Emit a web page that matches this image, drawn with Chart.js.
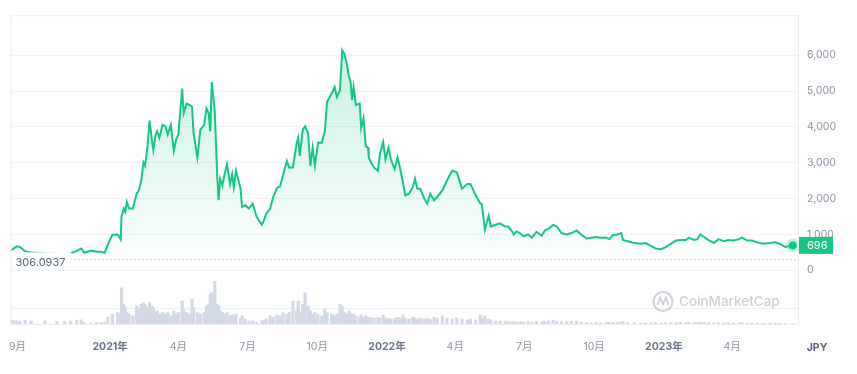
<!DOCTYPE html>
<html>
<head>
<meta charset="utf-8">
<script src="https://cdn.jsdelivr.net/npm/chart.js@4.4.0/dist/chart.umd.min.js"></script>
<style>
  body { margin: 0; background: #fff; }
  #wrap { width: 857px; height: 374px; }
</style>
</head>
<body>
<div id="wrap"><canvas id="chart" width="857" height="374"></canvas></div>
<script>
// day offsets counted from baseDate
const baseDate = '2020-09-01';
const days = [
  -9, -6, -1, 3, 10, 18, 36, 52, 62, 70,
  78, 84, 88, 97, 104, 110, 115, 119, 125, 132,
  136, 137, 140, 142, 144, 147, 152, 157, 160, 163,
  166, 168, 171, 174, 177, 179, 182, 184, 187, 191,
  195, 198, 202, 206, 209, 212, 217, 219, 223, 227,
  230, 232, 237, 241, 246, 249, 252, 254, 256, 260,
  263, 265, 267, 270, 272, 276, 280, 283, 285, 288,
  294, 296, 300, 305, 310, 315, 322, 324, 328, 333,
  337, 342, 346, 350, 355, 358, 363, 368, 370, 372,
  376, 379, 383, 386, 389, 392, 396, 401, 405, 408,
  414, 418, 421, 425, 428, 431, 434, 437, 439, 441,
  443, 446, 451, 453, 456, 459, 462, 463, 466, 470,
  475, 478, 482, 485, 489, 492, 497, 501, 504, 508,
  511, 516, 521, 524, 527, 531, 536, 540, 544, 549,
  553, 560, 566, 573, 579, 586, 593, 597, 604, 610,
  612, 616, 621, 624, 630, 636, 643, 647, 652, 654,
  658, 663, 667, 673, 678, 684, 691, 695, 700, 706,
  711, 717, 724, 730, 737, 743, 750, 756, 763, 769,
  776, 780, 785, 791, 796, 798, 804, 813, 822, 828,
  835, 841, 848, 854, 861, 868, 874, 881, 885, 892,
  896, 900, 905, 911, 918, 924, 931, 937, 944, 951,
  955, 962, 968, 975, 983, 992, 999, 1005, 1012, 1022
];
const prices = [
  560, 600, 670, 650, 530, 500, 470, 460, 445, 480,
  540, 610, 490, 555, 520, 517, 490, 720, 995, 1000,
  857, 1497, 1725, 1634, 1909, 1725, 1725, 2137, 2230, 2505,
  3008, 2917, 3392, 4181, 3648, 3357, 3785, 3879, 3695, 4060,
  4016, 3785, 4060, 3329, 3648, 3785, 5068, 4381, 4656, 4610,
  4565, 3832, 3145, 3923, 4060, 4519, 4381, 3879, 5252, 4428,
  2733, 1955, 2550, 2366, 2596, 2962, 2412, 2687, 2321, 2780,
  2275, 1772, 1817, 1725, 1863, 1497, 1269, 1350, 1588, 1725,
  2046, 2300, 2340, 2660, 3054, 2871, 2871, 3557, 3695, 3191,
  3923, 4016, 3832, 2917, 3420, 2917, 3557, 3557, 3879, 4703,
  4931, 5115, 4840, 5023, 6140, 6030, 5755, 5390, 5253, 4747,
  5115, 4610, 4656, 3970, 4244, 3466, 3420, 3145, 3008, 2871,
  2780, 3283, 3576, 3099, 3420, 3099, 2824, 3145, 2871, 2459,
  2093, 2140, 2321, 2550, 2275, 2275, 2000, 1863, 2140, 1955,
  2046, 2230, 2505, 2780, 2733, 2275, 2412, 2412, 2093, 1863,
  1850, 1131, 1524, 1222, 1270, 1313, 1222, 1222, 1085, 1000,
  1085, 1025, 950, 1000, 910, 1075, 965, 1110, 1165, 1269,
  1222, 1040, 1000, 1040, 1110, 1000, 890, 910, 930, 910,
  910, 870, 985, 1000, 1040, 845, 810, 760, 740, 760,
  680, 610, 590, 640, 740, 830, 845, 845, 910, 845,
  870, 1000, 930, 845, 760, 870, 810, 845, 830, 870,
  910, 830, 830, 780, 740, 760, 780, 740, 650, 696
];
const volumes = [
  2, 2.4, 2, 1.8, 2.2, 1.8, 2, 1.6, 1.4, 1.8,
  2.4, 2.6, 0.8, 0.6, 1, 0.8, 1.2, 4.2, 6, 7,
  6, 22, 12, 10, 7, 6, 5, 11, 9, 12,
  13, 12, 10, 13, 11, 10, 7, 8, 6, 7,
  6, 7, 5, 8, 6, 7, 14, 9, 7, 6,
  15, 10, 7, 6, 7, 11, 12, 18, 19, 26,
  12, 11, 8, 7, 6, 7, 5, 5.4, 4, 6,
  3.6, 5, 3, 2, 2, 1.2, 2, 2.4, 3, 5,
  4, 5.4, 5, 7, 6, 7, 14, 8, 14, 7,
  12, 19, 11, 8, 6, 7, 6, 5, 9, 7,
  6, 5, 6, 12, 11, 7, 6, 8, 6, 5,
  6, 5, 4, 5.4, 4, 5, 4, 3.6, 4, 3.6,
  4, 3.6, 5.4, 3.6, 3.6, 3, 3.6, 4, 3.6, 5.4,
  3.6, 3, 4, 3.6, 3, 3.6, 3, 3.6, 3, 4,
  3.6, 5, 3.6, 3, 3.6, 3, 2.4, 3, 2.4, 5.4,
  3.6, 5, 3, 2.4, 1.8, 1.8, 1.8, 1.5, 1.5, 1.2,
  1.2, 1.5, 1.2, 1.4, 1.2, 1.6, 1.3, 1.8, 2, 2.2,
  1.8, 1.5, 1.4, 1.6, 1.8, 1.2, 0.8, 0.6, 0.8, 0.7,
  1, 0.8, 1, 1.2, 1.4, 1.6, 0.9, 0.7, 0.6, 0.6,
  0.7, 0.8, 0.6, 0.7, 0.9, 0.8, 1, 0.9, 1.1, 0.8,
  0.9, 1.2, 1, 0.8, 0.7, 0.8, 0.7, 0.8, 0.6, 0.7,
  0.8, 0.6, 0.5, 0.5, 0.4, 0.4, 0.5, 0.4, 0.3, 0.3
];
const priceTicks = [0, 1000, 2000, 3000, 4000, 5000, 6000];
const volumeTicks = [10];
const tickDates = ['2020-09-01', '2021-01-01', '2021-04-01', '2021-07-01', '2021-10-01',
  '2022-01-01', '2022-04-01', '2022-07-01', '2022-10-01', '2023-01-01', '2023-04-01'];
const tickLabels = ['9月', '2021年', '4月', '7月', '10月', '2022年', '4月', '7月', '10月', '2023年', '4月'];
const lowPrice = 306.0937;
const lastPrice = 696;
const currency = 'JPY';

const GREEN = '#16c784';

function dayOf(s) {
  const p = s.split('-').map(Number);
  const b = baseDate.split('-').map(Number);
  return Math.round((Date.UTC(p[0], p[1] - 1, p[2]) - Date.UTC(b[0], b[1] - 1, b[2])) / 86400000);
}

Chart.defaults.font.family = 'Inter, Roboto, "Noto Sans CJK JP", sans-serif';

const overlay = {
  id: 'overlay',
  beforeDatasetsDraw(chart) {
    const { ctx, chartArea: a, scales } = chart;
    ctx.save();
    // volume grid line
    volumeTicks.forEach(v => {
      const gy = Math.round(scales.yv.getPixelForValue(v)) + 0.5;
      ctx.strokeStyle = '#eff1f4';
      ctx.lineWidth = 1;
      ctx.beginPath(); ctx.moveTo(a.left, gy); ctx.lineTo(a.right, gy); ctx.stroke();
    });
    // watermark
    ctx.strokeStyle = 'rgba(170,178,194,0.6)';
    ctx.fillStyle = 'rgba(170,178,194,0.6)';
    ctx.lineWidth = 2;
    ctx.beginPath(); ctx.arc(663, 301.5, 9.5, 0, Math.PI * 2); ctx.stroke();
    ctx.lineWidth = 1.8;
    ctx.beginPath();
    ctx.moveTo(657.5, 305); ctx.lineTo(660, 297.5); ctx.lineTo(663, 304);
    ctx.lineTo(666, 297.5); ctx.lineTo(668.5, 305);
    ctx.stroke();
    ctx.font = '500 13.5px Inter, Roboto, sans-serif';
    ctx.textBaseline = 'middle';
    ctx.textAlign = 'left';
    ctx.fillText('CoinMarketCap', 679, 302);
    // dotted low line
    const ly = Math.round(scales.y.getPixelForValue(lowPrice)) + 0.5;
    ctx.strokeStyle = '#a6adbd';
    ctx.lineWidth = 1;
    ctx.setLineDash([1, 3]);
    ctx.beginPath(); ctx.moveTo(a.left, ly); ctx.lineTo(a.right, ly); ctx.stroke();
    ctx.setLineDash([]);
    ctx.restore();
  },
  afterDatasetsDraw(chart) {
    const { ctx, chartArea: a, scales } = chart;
    ctx.save();
    // low price label
    const ly = scales.y.getPixelForValue(lowPrice);
    ctx.font = '11px Inter, Roboto, sans-serif';
    const lbl = lowPrice.toString();
    const w = ctx.measureText(lbl).width;
    ctx.fillStyle = '#fff';
    ctx.fillRect(a.left + 1, ly - 7, w + 10, 17);
    ctx.fillStyle = '#58667e';
    ctx.textBaseline = 'middle';
    ctx.fillText(lbl, a.left + 5, ly + 3);
    // end point
    const lx = scales.x.getPixelForValue(days[days.length - 1]);
    const py = scales.y.getPixelForValue(prices[prices.length - 1]);
    ctx.fillStyle = 'rgba(22,199,132,0.25)';
    ctx.beginPath(); ctx.arc(lx, py, 7, 0, Math.PI * 2); ctx.fill();
    ctx.fillStyle = GREEN;
    ctx.beginPath(); ctx.arc(lx, py, 4, 0, Math.PI * 2); ctx.fill();
    // frame
    ctx.strokeStyle = '#eceef2';
    ctx.lineWidth = 1;
    ctx.strokeRect(a.left + 0.5, a.top + 0.5, a.right - a.left, a.bottom - a.top);
    ctx.restore();
  },
  afterDraw(chart) {
    const { ctx, chartArea: a, scales } = chart;
    ctx.save();
    // current price tag
    const py = scales.y.getPixelForValue(lastPrice);
    ctx.fillStyle = GREEN;
    ctx.fillRect(a.right + 1, py - 8.5, 34, 17);
    ctx.fillStyle = '#fff';
    ctx.font = '11px Inter, Roboto, sans-serif';
    ctx.textBaseline = 'middle';
    ctx.textAlign = 'left';
    ctx.fillText(lastPrice.toString(), a.right + 9, py + 0.5);
    // currency
    ctx.fillStyle = '#58667e';
    ctx.font = 'bold 10.5px Inter, Roboto, sans-serif';
    ctx.textAlign = 'center';
    ctx.fillText(currency, 817, 348);
    ctx.restore();
  }
};

const ctx = document.getElementById('chart').getContext('2d');
new Chart(ctx, {
  type: 'line',
  data: {
    datasets: [{
      type: 'line',
      data: days.map((d, i) => ({ x: d, y: prices[i] })),
      yAxisID: 'y',
      borderColor: GREEN,
      borderWidth: 2,
      pointRadius: 0,
      tension: 0,
      order: 0,
      fill: { target: 'origin' },
      backgroundColor: (c) => {
        const ch = c.chart;
        const a = ch.chartArea;
        if (!a) return 'rgba(22,199,132,0.1)';
        const y0 = ch.scales.y.getPixelForValue(0);
        const g = ch.ctx.createLinearGradient(0, a.top + 35, 0, y0);
        g.addColorStop(0, 'rgba(22,199,132,0.24)');
        g.addColorStop(1, 'rgba(22,199,132,0.0)');
        return g;
      }
    }, {
      type: 'bar',
      data: days.map((d, i) => ({ x: d, y: volumes[i] })),
      yAxisID: 'yv',
      backgroundColor: '#d3d9e5',
      barThickness: 2.5,
      order: 1
    }]
  },
  options: {
    responsive: false,
    animation: false,
    layout: { padding: { top: 10, left: 5, right: 0, bottom: 0 } },
    plugins: { legend: { display: false }, tooltip: { enabled: false } },
    scales: {
      x: {
        type: 'linear',
        offset: false,
        min: days[0] - 0.2,
        max: days[days.length - 1] + 6.8,
        grid: { display: false },
        border: { display: false },
        afterBuildTicks: (s) => { s.ticks = tickDates.map(t => ({ value: dayOf(t) })); },
        afterFit: (s) => { s.height = 50; },
        ticks: {
          autoSkip: false,
          maxRotation: 0,
          padding: 9,
          callback: (v, i) => tickLabels[i],
          color: (c) => tickLabels[c.index] && tickLabels[c.index].includes('年') ? '#6b768c' : '#8a93a6',
          font: (c) => ({ size: 10.5, weight: tickLabels[c.index] && tickLabels[c.index].includes('年') ? 'bold' : 'normal' })
        }
      },
      y: {
        position: 'right',
        min: -1497,
        max: 7115,
        afterBuildTicks: (s) => { s.ticks = priceTicks.map(v => ({ value: v })); },
        afterFit: (s) => { s.width = 59; },
        grid: { color: '#f1f3f6', drawTicks: false },
        border: { display: false },
        ticks: {
          padding: 9,
          color: '#8a93a6',
          font: { size: 10.5 },
          callback: (v) => v.toLocaleString('en-US')
        }
      },
      yv: {
        display: false,
        min: 0,
        max: 187.7
      }
    }
  },
  plugins: [overlay]
});
</script>
</body>
</html>
